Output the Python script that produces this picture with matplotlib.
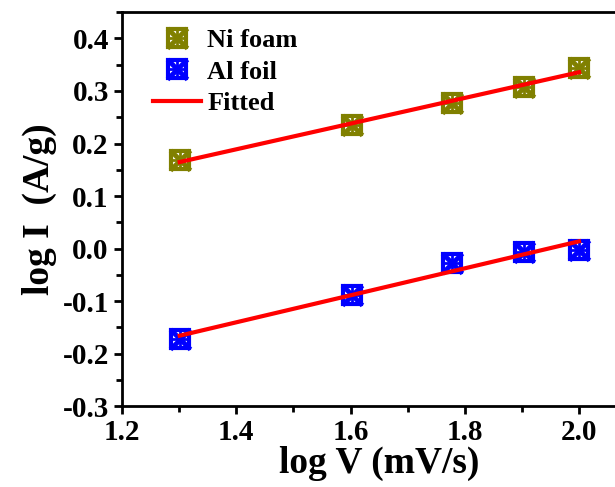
import numpy as np
import matplotlib.pyplot as plt
from matplotlib.ticker import MultipleLocator

log_v = [1.301, 1.602, 1.778, 1.903, 2.0]
ni_foam = [0.168, 0.236, 0.277, 0.308, 0.343]
al_foil = [-0.172, -0.088, -0.027, -0.006, -0.002]

plt.rcParams['font.family'] = ['Liberation Serif', 'DejaVu Serif']
plt.rcParams['font.weight'] = 'bold'
plt.rcParams['axes.unicode_minus'] = False

fig = plt.figure(figsize=(6.15, 4.87), dpi=100)
ax = fig.add_axes([0.1984, 0.166, 0.836, 0.809])

x = np.array(log_v)
handles, labels = [], []
for y, col, lab in [(ni_foam, '#808000', 'Ni foam'), (al_foil, '#0000ff', 'Al foil')]:
  h1, = ax.plot(x, y, ls='none', marker='s', ms=13, mfc='none', mec=col, mew=3, zorder=3)
  h2, = ax.plot(x, y, ls='none', marker='x', ms=14, mec=col, mew=3.5, zorder=3)
  h3, = ax.plot(x, y, ls='none', marker='+', ms=13, mec=col, mew=2, zorder=3)
  handles.append((h1, h2, h3))
  labels.append(lab)

fit = None
for y in [ni_foam, al_foil]:
  k, b = np.polyfit(x, y, 1)
  fit, = ax.plot(x[[0, -1]], k*x[[0, -1]] + b, color='red', lw=3, zorder=4)
handles.append(fit)
labels.append('Fitted')

ax.set_xlim(1.2, 2.1)
ax.set_ylim(-0.3, 0.45)
ax.xaxis.set_major_locator(MultipleLocator(0.2))
ax.xaxis.set_minor_locator(MultipleLocator(0.1))
ax.yaxis.set_minor_locator(MultipleLocator(0.05))
ax.set_yticks(np.arange(-0.3, 0.41, 0.1))
ax.tick_params(which='major', direction='out', length=6, width=2, labelsize=21)
ax.tick_params(which='minor', direction='out', length=4, width=2)
for s in ax.spines.values():
  s.set_linewidth(2)

ax.set_xlabel('log V (mV/s)', fontsize=27, fontweight='bold', labelpad=0)
ax.set_ylabel('log I  (A/g)', fontsize=27, fontweight='bold', labelpad=4)

ax.legend(handles, labels, loc='upper left', frameon=False, fontsize=19,
          handlelength=1.8, handletextpad=0.25, bbox_to_anchor=(0.04, 0.985),
          borderaxespad=0, labelspacing=0.3)

fig.savefig('out.png', dpi=100)
